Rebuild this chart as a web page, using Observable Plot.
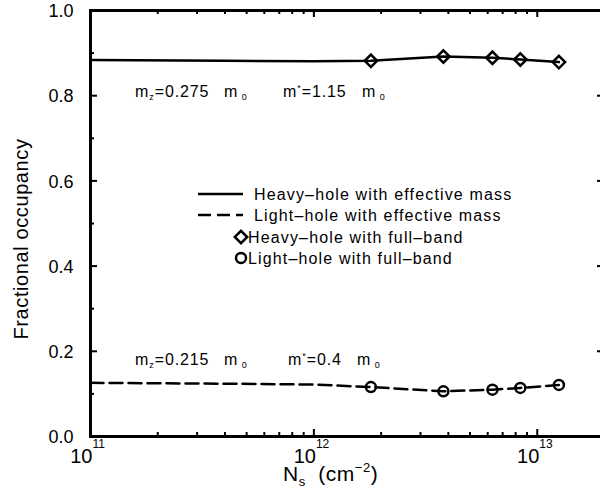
<!DOCTYPE html>
<html>
<head>
<meta charset="utf-8">
<script src="https://cdn.jsdelivr.net/npm/d3@7"></script>
<script src="https://cdn.jsdelivr.net/npm/@observablehq/plot@0.6"></script>
<style>
  html, body { margin: 0; padding: 0; background: #fff; overflow: hidden; }
  #chart { width: 600px; height: 501px; overflow: hidden; }
  #chart svg {
    font-family: "Liberation Sans", Arial, Helvetica, sans-serif;
    max-width: none !important;
    height: 501px !important;
  }
</style>
</head>
<body>
<div id="chart"></div>
<script>
// Sheet densities N_s (cm^-2) of the full-band results
const fullBandNs = [1.8e12, 3.8e12, 6.3e12, 8.4e12, 1.25e13];
const heavyFullBand = [0.882, 0.892, 0.889, 0.885, 0.879];
const lightFullBand = [0.116, 0.106, 0.110, 0.114, 0.121];

// Effective-mass curves
const effMassNs = [1e11, 4e11, 1e12, 1.8e12, 3.8e12, 6.3e12, 8.4e12, 1.25e13];
const heavyEffMass = [0.884, 0.882, 0.881, 0.882, 0.892, 0.889, 0.885, 0.879];
const lightEffMass = [0.126, 0.124, 0.122, 0.116, 0.106, 0.110, 0.114, 0.121];

// Axis ticks
const yMajor = [0, 0.2, 0.4, 0.6, 0.8, 1.0];
const yMinor = [0.1, 0.3, 0.5, 0.7, 0.9];
const xDecades = [1e11, 1e12, 1e13];
const xExponents = ["11", "12", "13"];
const minorMultipliers = [2, 3, 4, 5, 6, 7, 8, 9];
const xMinor = [1e11, 1e12].flatMap(d => minorMultipliers.map(m => m * d));

// Tables for the marks
const heavyCurve = effMassNs.map((ns, i) => ({ns, f: heavyEffMass[i]}));
const lightCurve = effMassNs.map((ns, i) => ({ns, f: lightEffMass[i]}));
const heavyPoints = fullBandNs.map((ns, i) => ({ns, f: heavyFullBand[i]}));
const lightPoints = fullBandNs.map((ns, i) => ({ns, f: lightFullBand[i]}));
const xLabels = xDecades.map((v, i) => ({v, e: xExponents[i]}));

const W = 610, H = 501;
const mL = 90, mR = 6, mT = 10, mB = 65;
const plotW = W - mL - mR;
const plotH = H - mT - mB;
const dash = "13,6";

const chart = Plot.plot({
  width: W,
  height: H,
  marginLeft: mL,
  marginRight: mR,
  marginTop: mT,
  marginBottom: mB,
  style: {background: "white", color: "black", fontFamily: "Liberation Sans, Arial, sans-serif"},
  x: {type: "log", domain: [1e11, 2e13], axis: null},
  y: {domain: [0, 1], axis: null},
  marks: [
    // inward ticks, left and right
    Plot.tickY(yMajor, {y: d => d, insetRight: plotW - 7, strokeWidth: 2}),
    Plot.tickY(yMinor, {y: d => d, insetRight: plotW - 4, strokeWidth: 2}),
    Plot.tickY(yMajor, {y: d => d, insetLeft: plotW - 7, strokeWidth: 2}),
    Plot.tickY(yMinor, {y: d => d, insetLeft: plotW - 4, strokeWidth: 2}),
    // inward ticks, bottom and top
    Plot.tickX(xDecades, {x: d => d, insetTop: plotH - 7, strokeWidth: 2}),
    Plot.tickX(xMinor, {x: d => d, insetTop: plotH - 4, strokeWidth: 2}),
    Plot.tickX(xDecades, {x: d => d, insetBottom: plotH - 7, strokeWidth: 2}),
    Plot.tickX(xMinor, {x: d => d, insetBottom: plotH - 4, strokeWidth: 2}),
    Plot.frame({stroke: "black", strokeWidth: 3}),
    // y tick labels
    Plot.text(yMajor, {
      x: 1e11, y: d => d, text: d => d.toFixed(1),
      textAnchor: "end", dx: -17, dy: 1, fontSize: 18, letterSpacing: 0.6
    }),
    // x tick labels: 10 with a raised exponent
    Plot.text(xLabels, {
      x: "v", y: 0, text: () => "10",
      textAnchor: "end", lineAnchor: "bottom", dx: 2, dy: 26, fontSize: 20
    }),
    Plot.text(xLabels, {
      x: "v", y: 0, text: "e",
      textAnchor: "start", lineAnchor: "bottom", dx: 2, dy: 11, fontSize: 12
    }),
    // effective-mass curves
    Plot.line(heavyCurve, {x: "ns", y: "f", stroke: "black", strokeWidth: 2.5}),
    Plot.line(lightCurve, {x: "ns", y: "f", stroke: "black", strokeWidth: 2.5, strokeDasharray: dash}),
    // full-band results
    Plot.dot(heavyPoints, {x: "ns", y: "f", symbol: "diamond2", r: 5.6, stroke: "black", strokeWidth: 2.5, fill: "none"}),
    Plot.dot(lightPoints, {x: "ns", y: "f", symbol: "circle", r: 5, stroke: "black", strokeWidth: 2.5, fill: "none"})
  ]
});

document.getElementById("chart").appendChild(chart);

// Rich-text labels (subscripts and superscripts) drawn into the same SVG
const svg = d3.select(chart);
const FONT = "Liberation Sans, Arial, sans-serif";

function rich(x, y, parts, size, extra = {}) {
  const t = svg.append("text")
    .attr("x", x).attr("y", y)
    .attr("font-family", FONT)
    .attr("font-size", size)
    .attr("fill", "black")
    .attr("text-anchor", extra.anchor ?? "start")
    .attr("letter-spacing", extra.spacing ?? 0.8)
    .style("white-space", "pre");
  if (extra.rotate) t.attr("transform", `rotate(${extra.rotate},${x},${y})`);
  let shift = 0;
  for (const p of parts) {
    const s = t.append("tspan").text(p.t);
    const want = p.sub ? (p.dy ?? 3) : p.sup ? -(p.dy ?? 7) : 0;
    if (want !== shift) { s.attr("dy", want - shift); shift = want; }
    if (p.size) s.attr("font-size", p.size);
  }
  return t;
}

// axis titles
rich(28, 239, [{t: "Fractional occupancy"}], 20, {anchor: "middle", rotate: -90, spacing: 0.6});
rich(283, 481, [
  {t: "N"}, {t: "s", sub: true, size: 13, dy: 5}, {t: "  (cm"},
  {t: "−2", sup: true, size: 13, dy: 9}, {t: ")"}
], 21, {spacing: 0.5});

// effective-mass annotations
const notes = [
  {y: 97, a: "0.275", b: "1.15", bx: 283, mx: 362},
  {y: 365, a: "0.215", b: "0.4", bx: 288, mx: 357}
];
for (const n of notes) {
  rich(135, n.y, [{t: "m"}, {t: "z", sub: true, size: 9, dy: 3}, {t: "=" + n.a}], 16, {spacing: 0.9});
  rich(224, n.y, [{t: "m"}, {t: " 0", sub: true, size: 9, dy: 3}], 16, {spacing: 0.9});
  rich(n.bx, n.y, [{t: "m"}, {t: "*", sup: true, size: 9, dy: 6}, {t: "=" + n.b}], 16, {spacing: 0.9});
  rich(n.mx, n.y, [{t: "m"}, {t: " 0", sub: true, size: 9, dy: 3}], 16, {spacing: 0.9});
}

// legend
const legend = svg.append("g");
const rows = [
  {y: 194, kind: "solid", text: "Heavy–hole with effective mass"},
  {y: 215, kind: "dashed", text: "Light–hole with effective mass"},
  {y: 237, kind: "diamond", text: "Heavy–hole with full–band"},
  {y: 258, kind: "circle", text: "Light–hole with full–band"}
];
for (const r of rows) {
  if (r.kind === "solid" || r.kind === "dashed") {
    const l = legend.append("line")
      .attr("x1", 198).attr("x2", 243).attr("y1", r.y).attr("y2", r.y)
      .attr("stroke", "black").attr("stroke-width", 2.5);
    if (r.kind === "dashed") l.attr("stroke-dasharray", dash);
    rich(254, r.y + 6, [{t: r.text}], 16, {spacing: 1.15});
  } else {
    const sym = r.kind === "diamond" ? d3.symbolDiamond2 : d3.symbolCircle;
    const size = r.kind === "diamond" ? Math.PI * 5.6 * 5.6 : Math.PI * 5 * 5;
    legend.append("path")
      .attr("d", d3.symbol(sym, size)())
      .attr("transform", `translate(241,${r.y})`)
      .attr("fill", "none").attr("stroke", "black").attr("stroke-width", 2.5);
    rich(248, r.y + 6, [{t: r.text}], 16, {spacing: 1.15});
  }
}
</script>
</body>
</html>
